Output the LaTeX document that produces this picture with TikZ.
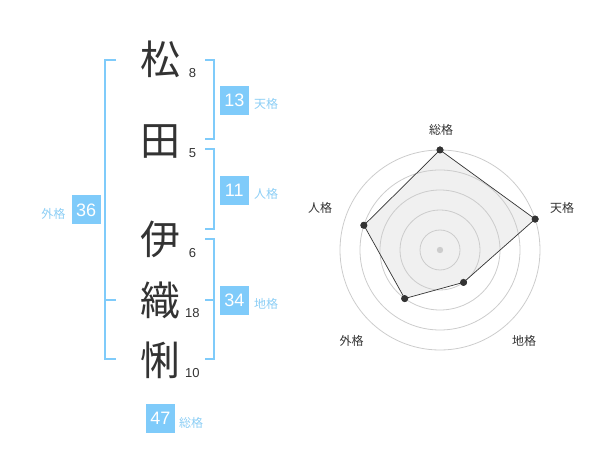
\documentclass[tikz,border=0pt]{standalone}
\usepackage{fontspec}
\usetikzlibrary{calc}
\setmainfont{Liberation Sans}
\newfontfamily\jp{Noto Sans CJK JP}
\definecolor{brk}{HTML}{7FCBFA}
\definecolor{lbl}{HTML}{8CCEF5}
\definecolor{ink}{HTML}{333333}
\definecolor{ring}{HTML}{CCCCCC}
\definecolor{area}{HTML}{F0F0F0}
\tikzset{
  bigch/.style={inner sep=0pt, text=ink, font=\jp\fontsize{40}{40}\selectfont},
  strk/.style={inner sep=0pt, text=ink, font=\fontsize{13}{13}\selectfont},
  badge/.style={fill=brk, text=white, minimum width=29pt, minimum height=29pt, inner sep=0pt, font=\fontsize{18}{18}\selectfont},
  blbl/.style={inner sep=0pt, text=lbl, font=\jp\fontsize{12}{12}\selectfont},
  rlbl/.style={inner sep=0pt, text=ink, font=\jp\fontsize{12}{12}\selectfont},
  brack/.style={draw=brk, line width=2pt},
  ringc/.style={draw=ring, line width=0.8pt},
  dot/.style={circle, fill=ink, inner sep=0pt, minimum size=7pt},
}
\begin{document}
\begin{tikzpicture}[x=1pt, y=-1pt]
\useasboundingbox (0,0) rectangle (600,470);
% brackets
\draw[brack] (116,60) -- (105,60) -- (105,359) -- (116,359);
\draw[brack] (105,300) -- (116,300);
\draw[brack] (205,60) -- (214,60) -- (214,139) -- (205,139);
\draw[brack] (205,149) -- (214,149) -- (214,229) -- (205,229);
\draw[brack] (205,239) -- (214,239) -- (214,359) -- (205,359);
\draw[brack] (205,300) -- (214,300);
% characters
\node[bigch] (c1) at (160,59) {松};
\node[bigch] (c2) at (160,141.5) {田};
\node[bigch] (c3) at (160,239) {伊};
\node[bigch] (c4) at (160,300) {織};
\node[bigch] (c5) at (160,360) {悧};
\node[strk] (s1) at (192.6,73.3) {8};
\node[strk] (s2) at (192.6,152.7) {5};
\node[strk] (s3) at (192.6,253.3) {6};
\node[strk] (s4) at (192.4,312.7) {18};
\node[strk] (s5) at (192.4,372.7) {10};
% badges
\node[badge] (b13) at (234.3,100.5) {13};
\node[badge] (b11) at (234.3,190.5) {11};
\node[badge] (b34) at (234.3,300.3) {34};
\node[badge] (b36) at (86.2,210) {36};
\node[badge] (b47) at (160.5,418.8) {47};
\node[blbl, anchor=west] (l13) at (254,104) {天格};
\node[blbl, anchor=west] (l11) at (254,193.5) {人格};
\node[blbl, anchor=west] (l34) at (254,304) {地格};
\node[blbl, anchor=east] (l36) at (65.5,213.5) {外格};
\node[blbl, anchor=west] (l47) at (179,422.7) {総格};
% radar
\coordinate (rc) at (440,250);
\node[dot] (d1) at ($(rc)+(-90:100)$) {};
\node[dot] (d2) at ($(rc)+(-18:100)$) {};
\node[dot] (d3) at ($(rc)+(54:40)$) {};
\node[dot] (d4) at ($(rc)+(126:60)$) {};
\node[dot] (d5) at ($(rc)+(198:80)$) {};
\fill[area] (d1.center) -- (d2.center) -- (d3.center) -- (d4.center) -- (d5.center) -- cycle;
\foreach \r in {20,40,60,80,100} \draw[ringc] (rc) circle (\r);
\fill[ring] (rc) circle (3.2);
\draw[ink, line width=0.7pt] (d1.center) -- (d2.center) -- (d3.center) -- (d4.center) -- (d5.center) -- cycle;
\foreach \d in {d1,d2,d3,d4,d5} \fill[ink] (\d) circle (3.5);
\node[rlbl] (r1) at (441,130) {総格};
\node[rlbl] (r2) at (562,208.3) {天格};
\node[rlbl] (r3) at (524,340.7) {地格};
\node[rlbl] (r4) at (351.7,340.7) {外格};
\node[rlbl] (r5) at (320,208.3) {人格};
\end{tikzpicture}
\end{document}
